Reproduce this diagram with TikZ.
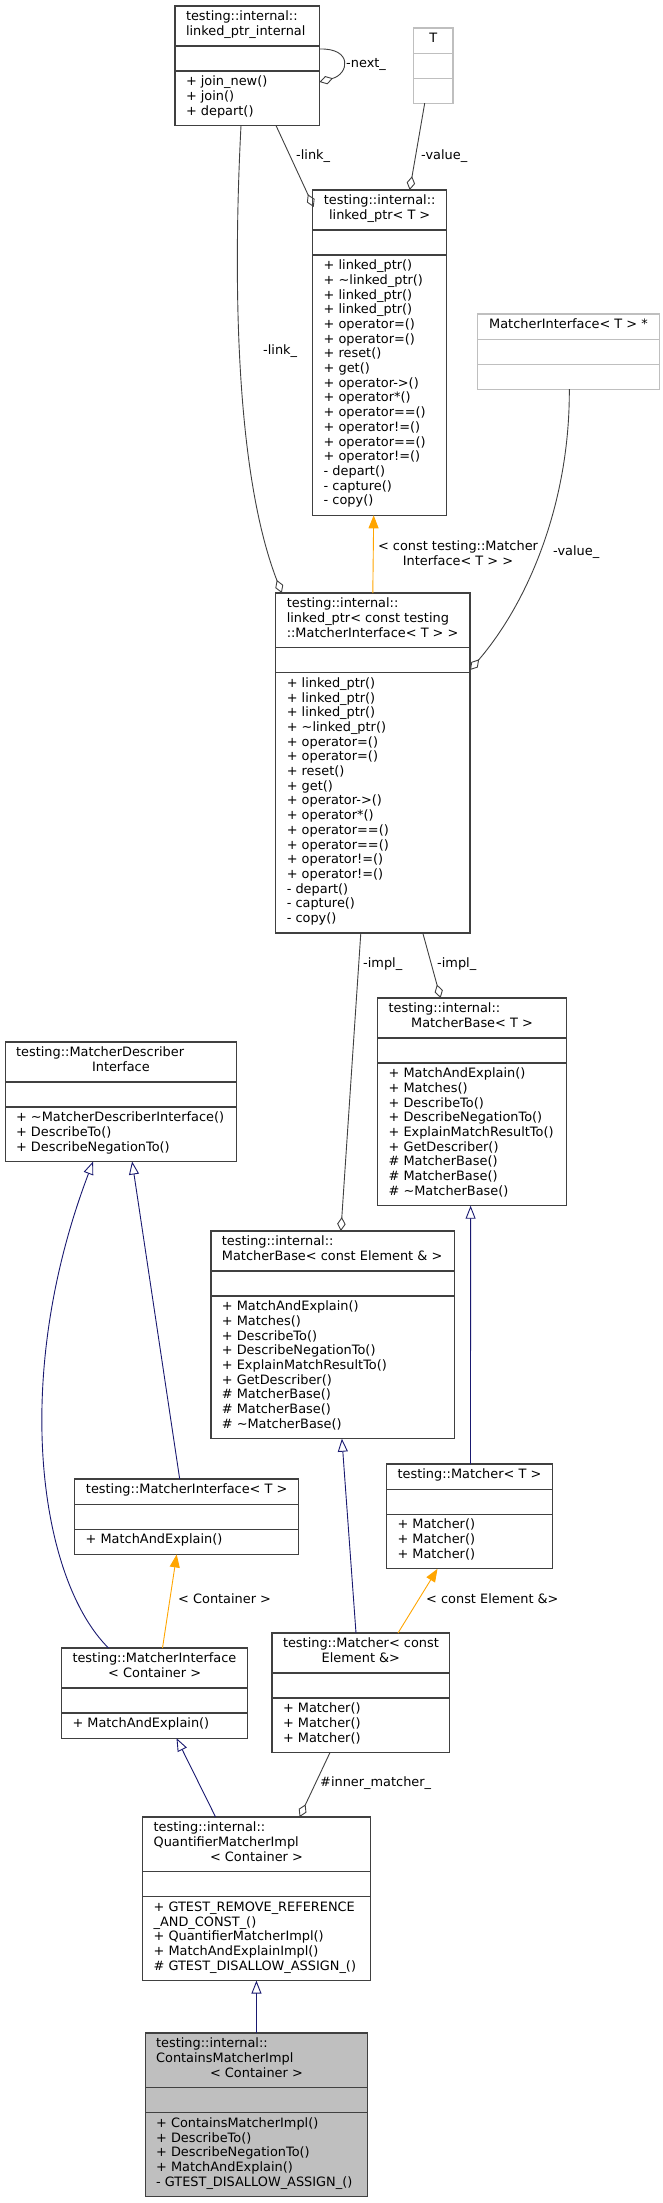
\documentclass[tikz,border=0pt]{standalone}
\usepackage{fontspec}
\setmainfont{DejaVu Sans}
\usetikzlibrary{arrows.meta}
\definecolor{boxc}{HTML}{404040}
\definecolor{lgc}{HTML}{BFBFBF}
\definecolor{navyc}{HTML}{191970}
\definecolor{orangec}{HTML}{FFA500}
\definecolor{edgec}{HTML}{404040}
\tikzset{
  txt/.style={font=\fontsize{12.9pt}{14.7pt}\selectfont, inner sep=0pt, text=black},
  cls/.style={rectangle, draw=boxc, line width=1.2pt, inner sep=0pt, outer sep=0pt, anchor=north west, fill=white},
  clsg/.style={rectangle, draw=lgc, line width=1.2pt, inner sep=0pt, outer sep=0pt, anchor=north west, fill=white},
  clsf/.style={rectangle, draw=boxc, line width=1.2pt, inner sep=0pt, outer sep=0pt, anchor=north west, fill=lgc},
  agg/.style={draw=edgec, line width=0.9pt, -{Diamond[open, length=14pt, width=8.5pt, line width=0.9pt]}},
  inh/.style={draw=navyc, line width=0.9pt, -{Triangle[open, length=13pt, width=10pt, line width=0.9pt]}},
  tpl/.style={draw=orangec, line width=0.9pt, -{Triangle[length=13pt, width=10pt]}},
  lbl/.style={txt, anchor=mid west}
}
\newcommand\umlbox[8]{%
  \pgfmathsetmacro\hhA{10.5+14.7*#5}%
  \pgfmathsetmacro\mhA{ifthenelse(#6==0,25,10.5+14.7*#6)}%
  \pgfmathsetmacro\hbA{\hhA+25}%
  \pgfmathsetmacro\totA{\hbA+\mhA}%
  \node[#7, minimum width=#4pt, minimum height=\totA pt] (#1) at (#2,#3) {};%
  \draw[draw=#8, line width=1.2pt] ([yshift={-\hhA pt}]#1.north west) -- ([yshift={-\hhA pt}]#1.north east);%
  \draw[draw=#8, line width=1.2pt] ([yshift={-\hbA pt}]#1.north west) -- ([yshift={-\hbA pt}]#1.north east);%
}
\newcommand\hL[4]{\node[txt,anchor=mid west] (#1) at ([xshift=10.8pt,yshift={-12pt-14.7pt*(#3-1)}]#2.north west) {#4};}
\newcommand\hC[4]{\node[txt,anchor=mid] (#1) at ([yshift={-12pt-14.7pt*(#3-1)}]#2.north) {#4};}
\newcommand\meths[3]{\foreach \xmeth [count=\kidx] in {#3} {\node[txt,anchor=mid west] (#1-m\kidx) at ([xshift=10.8pt,yshift={-(35.5pt+14.7pt*#2)-12pt-14.7pt*(\kidx-1)}]#1.north west) {\xmeth};}}
\newcommand\tld{\textasciitilde{}}
\begin{document}
\begin{tikzpicture}[x=1pt,y=-1pt]
\useasboundingbox (0,0) rectangle (662,2203);
% ---------- boxes ----------
\umlbox{lpi}{175}{6}{144.5}{2}{3}{cls}{boxc}
\hL{lpi-h1}{lpi}{1}{testing::internal::}
\hL{lpi-h2}{lpi}{2}{linked\_ptr\_internal}
\meths{lpi}{2}{+ join\_new(),+ join(),+ depart()}

\umlbox{T}{413.7}{28}{39.3}{1}{0}{clsg}{lgc}
\hC{T-h1}{T}{1}{T}

\umlbox{lpt}{312.7}{190}{134}{2}{17}{cls}{boxc}
\hC{lpt-h1}{lpt}{1}{testing::internal::}
\hC{lpt-h2}{lpt}{2}{linked\_ptr< T >}
\meths{lpt}{2}{+ linked\_ptr(),+ \tld linked\_ptr(),+ linked\_ptr(),+ linked\_ptr(),+ operator=(),+ operator=(),+ reset(),+ get(),+ operator->(),+ operator*(),+ operator==(),+ operator!=(),+ operator==(),+ operator!=(),- depart(),- capture(),- copy()}

\umlbox{MIs}{477.3}{314}{182.4}{1}{0}{clsg}{lgc}
\hC{MIs-h1}{MIs}{1}{MatcherInterface< T > *}

\umlbox{lpc}{275.8}{593}{194.2}{3}{17}{cls}{boxc}
\hL{lpc-h1}{lpc}{1}{testing::internal::}
\hL{lpc-h2}{lpc}{2}{linked\_ptr< const testing}
\hL{lpc-h3}{lpc}{3}{::MatcherInterface< T > >}
\meths{lpc}{3}{+ linked\_ptr(),+ linked\_ptr(),+ linked\_ptr(),+ \tld linked\_ptr(),+ operator=(),+ operator=(),+ reset(),+ get(),+ operator->(),+ operator*(),+ operator==(),+ operator==(),+ operator!=(),+ operator!=(),- depart(),- capture(),- copy()}

\umlbox{MBT}{377.6}{998}{188.8}{2}{9}{cls}{boxc}
\hL{MBT-h1}{MBT}{1}{testing::internal::}
\hC{MBT-h2}{MBT}{2}{MatcherBase< T >}
\meths{MBT}{2}{+ MatchAndExplain(),+ Matches(),+ DescribeTo(),+ DescribeNegationTo(),+ ExplainMatchResultTo(),+ GetDescriber(),\# MatcherBase(),\# MatcherBase(),\# \tld MatcherBase()}

\umlbox{MDI}{5.1}{1042}{231.6}{2}{3}{cls}{boxc}
\hL{MDI-h1}{MDI}{1}{testing::MatcherDescriber}
\hC{MDI-h2}{MDI}{2}{Interface}
\meths{MDI}{2}{+ \tld MatcherDescriberInterface(),+ DescribeTo(),+ DescribeNegationTo()}

\umlbox{MBc}{210.9}{1231}{243.9}{2}{9}{cls}{boxc}
\hL{MBc-h1}{MBc}{1}{testing::internal::}
\hL{MBc-h2}{MBc}{2}{MatcherBase< const Element \& >}
\meths{MBc}{2}{+ MatchAndExplain(),+ Matches(),+ DescribeTo(),+ DescribeNegationTo(),+ ExplainMatchResultTo(),+ GetDescriber(),\# MatcherBase(),\# MatcherBase(),\# \tld MatcherBase()}

\umlbox{MT}{386.5}{1464}{165.9}{1}{3}{cls}{boxc}
\hC{MT-h1}{MT}{1}{testing::Matcher< T >}
\meths{MT}{1}{+ Matcher(),+ Matcher(),+ Matcher()}

\umlbox{MIT}{74.7}{1479}{224}{1}{1}{cls}{boxc}
\hC{MIT-h1}{MIT}{1}{testing::MatcherInterface< T >}
\meths{MIT}{1}{+ MatchAndExplain()}

\umlbox{MIC}{61.5}{1648}{186.3}{2}{1}{cls}{boxc}
\hL{MIC-h1}{MIC}{1}{testing::MatcherInterface}
\hC{MIC-h2}{MIC}{2}{< Container >}
\meths{MIC}{2}{+ MatchAndExplain()}

\umlbox{Mc}{272}{1633}{177.7}{2}{3}{cls}{boxc}
\hL{Mc-h1}{Mc}{1}{testing::Matcher< const}
\hC{Mc-h2}{Mc}{2}{Element \&>}
\meths{Mc}{2}{+ Matcher(),+ Matcher(),+ Matcher()}

\umlbox{Q}{142.6}{1817}{227.8}{3}{5}{cls}{boxc}
\hL{Q-h1}{Q}{1}{testing::internal::}
\hL{Q-h2}{Q}{2}{QuantifierMatcherImpl}
\hC{Q-h3}{Q}{3}{< Container >}
\meths{Q}{3}{+ GTEST\_REMOVE\_REFERENCE,\_AND\_CONST\_(),+ QuantifierMatcherImpl(),+ MatchAndExplainImpl(),\# GTEST\_DISALLOW\_ASSIGN\_()}

\umlbox{CMI}{145.1}{2033}{222.7}{3}{5}{clsf}{boxc}
\hL{CMI-h1}{CMI}{1}{testing::internal::}
\hL{CMI-h2}{CMI}{2}{ContainsMatcherImpl}
\hC{CMI-h3}{CMI}{3}{< Container >}
\meths{CMI}{3}{+ ContainsMatcherImpl(),+ DescribeTo(),+ DescribeNegationTo(),+ MatchAndExplain(),- GTEST\_DISALLOW\_ASSIGN\_()}

% ---------- connectors ----------
\draw[agg] ([yshift=-43pt]lpi.north east) .. controls (353,48) and (349,74) .. ([yshift=-76pt]lpi.north east);
\node[lbl] (l-next) at (346,65) {-next\_};

\draw[agg] ([xshift=101pt]lpi.south west) -- ([xshift=1pt,yshift=-17pt]lpt.north west);
\node[lbl] (l-link1) at (296,157) {-link\_};

\draw[agg] ([xshift=11pt]T.south west) -- ([xshift=97pt]lpt.north west);
\node[lbl] (l-value1) at (421,157) {-value\_};

\draw[agg] ([xshift=66pt]lpi.south west) .. controls (232,300) and (238,480) .. ([xshift=6pt]lpc.north west);
\node[lbl] (l-link2) at (263,352) {-link\_};

\draw[tpl] ([xshift=97pt]lpc.north west) -- ([xshift=61pt]lpt.south west);
\node[txt, align=center] (l-tpl1) at (458,553) {< const testing::Matcher\\Interface< T > >};

\draw[agg] ([xshift=92pt]MIs.south west) .. controls (570,500) and (530,600) .. ([yshift=-77pt]lpc.north east);
\node[lbl] (l-value2) at (553,553) {-value\_};

\draw[agg] ([xshift=85pt]lpc.south west) -- ([xshift=130pt]MBc.north west);
\node[lbl] (l-impl1) at (363,965) {-impl\_};

\draw[agg] ([xshift=147pt]lpc.south west) -- ([xshift=63pt]MBT.north west);
\node[lbl] (l-impl2) at (437,965) {-impl\_};

\draw[inh] ([xshift=47pt]MIC.north west) .. controls (40,1580) and (10,1380) .. ([xshift=88pt]MDI.south west);
\draw[inh] ([xshift=105pt]MIT.north west) -- ([xshift=127pt]MDI.south west);

\draw[tpl] ([xshift=101pt]MIC.north west) -- ([xshift=102pt]MIT.south west);
\node[lbl] (l-cont) at (178,1601) {< Container >};

\draw[inh] ([xshift=84pt]Mc.north west) -- ([xshift=131pt]MBc.south west);
\draw[inh] ([xshift=84pt]MT.north west) -- ([xshift=93pt]MBT.south west);

\draw[tpl] ([xshift=126pt]Mc.north west) -- ([xshift=51pt]MT.south west);
\node[lbl] (l-elem) at (426,1601) {< const Element \&>};

\draw[inh] ([xshift=73pt]Q.north west) -- ([xshift=115pt]MIC.south west);

\draw[agg] ([xshift=58pt]Mc.south west) -- ([xshift=157pt]Q.north west);
\node[lbl] (l-inner) at (320,1784) {\#inner\_matcher\_};

\draw[inh] (CMI.north) -- (CMI.north |- Q.south);
\end{tikzpicture}
\end{document}
